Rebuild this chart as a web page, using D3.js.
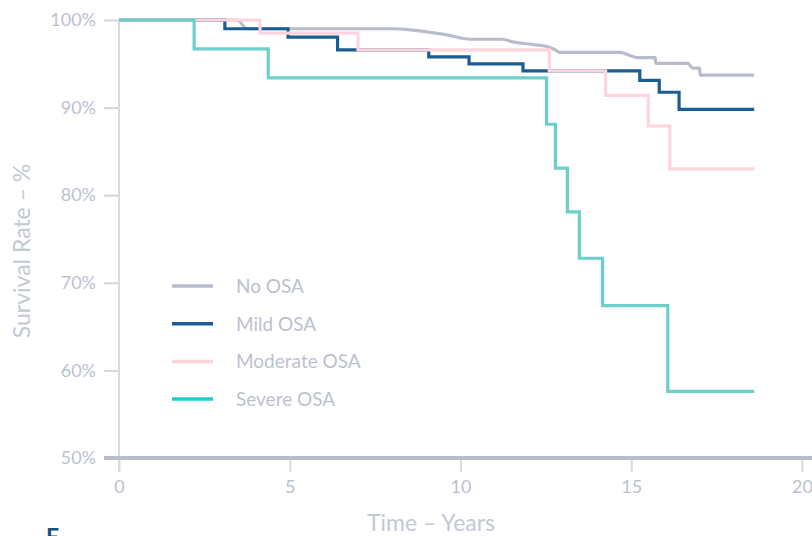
<!DOCTYPE html>
<html>
<head>
<meta charset="utf-8">
<script src="https://cdn.jsdelivr.net/npm/d3@7"></script>
<style>
  body { margin: 0; background: #fff; }
  svg { display: block; font-family: Lato, "Open Sans", sans-serif; }
</style>
</head>
<body>
<div id="chart"></div>
<script>
// Kaplan-Meier style survival curves
var seriesNames = ["No OSA", "Mild OSA", "Moderate OSA", "Severe OSA"];

// No OSA has many small events, so it reads as a smooth line
var noTimes   = [0, 3.46, 3.75, 8.0, 8.6, 9.1, 9.6, 10.0, 10.3, 11.2, 11.54, 12.24, 12.56, 12.77, 12.91, 14.67, 15.0, 15.17, 15.7, 15.72, 16.66, 16.8, 17.0, 17.02, 18.6];
var noValues  = [100, 100, 99.0, 99.0, 98.85, 98.6, 98.3, 97.95, 97.8, 97.8, 97.5, 97.15, 96.95, 96.6, 96.3, 96.3, 95.9, 95.7, 95.7, 95.05, 95.05, 94.5, 94.5, 93.7, 93.7];

var mildTimes  = [0, 3.1, 4.95, 6.4, 9.07, 10.25, 11.83, 15.25, 15.82, 16.4, 18.6];
var mildValues = [100, 99.0, 98.05, 96.6, 95.8, 95.0, 94.2, 93.1, 91.75, 89.8, 89.8];

var modTimes  = [0, 4.13, 7.0, 12.6, 14.25, 15.5, 16.13, 18.6];
var modValues = [100, 98.5, 96.6, 94.2, 91.4, 87.9, 83.0, 83.0];

var sevTimes  = [0, 2.2, 4.37, 12.52, 12.78, 13.13, 13.48, 14.16, 16.07, 18.6];
var sevValues = [100, 96.7, 93.4, 88.1, 83.1, 78.1, 72.8, 67.4, 57.6, 57.6];

var xTicks = [0, 5, 10, 15, 20];
var yTicks = [50, 60, 70, 80, 90, 100];

var lineColors   = ["#b9bdcb", "#1b5c92", "#ffd4dc", "#6dcfcb"];
var legendColors = ["#b9bdcb", "#1b5c92", "#ffd4dc", "#1fcfcf"];
var textColor = "#bcc1cf";
var fontStack = "Lato, 'Open Sans', sans-serif";

var width = 812, height = 536;

var svg = d3.select("#chart")
  .append("svg")
    .attr("width", width)
    .attr("height", height);

var x = d3.scaleLinear().domain([0, 20]).range([119, 802]);
var y = d3.scaleLinear().domain([50, 100]).range([458, 20]);

// y axis (thin line runs a bit below the x axis)
var yAxis = svg.append("g")
  .attr("transform", "translate(" + x(0) + ",0)")
  .call(d3.axisLeft(y).tickValues(yTicks).tickSize(15).tickSizeOuter(0).tickPadding(8)
    .tickFormat(function(d) { return d + "%"; }))
  .attr("font-family", fontStack)
  .attr("font-size", 18);
yAxis.select(".domain").remove();
yAxis.selectAll(".tick line").attr("stroke", "#d3d6de").attr("stroke-width", 2);
yAxis.selectAll(".tick text").attr("fill", textColor);
svg.append("line")
  .attr("x1", x(0)).attr("x2", x(0))
  .attr("y1", y(100) - 1).attr("y2", y(50) + 14)
  .attr("stroke", "#d8dae2")
  .attr("stroke-width", 2);

// x axis
var xAxis = svg.append("g")
  .attr("transform", "translate(0," + y(50) + ")")
  .call(d3.axisBottom(x).tickValues(xTicks).tickSize(14).tickSizeOuter(0).tickPadding(8))
  .attr("font-family", fontStack)
  .attr("font-size", 18);
xAxis.select(".domain").remove();
xAxis.selectAll(".tick line").attr("stroke", "#d8dae2").attr("stroke-width", 2);
xAxis.selectAll(".tick text").attr("fill", textColor);
svg.append("line")
  .attr("x1", 104).attr("x2", width)
  .attr("y1", y(50)).attr("y2", y(50))
  .attr("stroke", "#b9bdcb")
  .attr("stroke-width", 4);

// curves
var allSeries = [
  d3.zip(noTimes, noValues),
  d3.zip(mildTimes, mildValues),
  d3.zip(modTimes, modValues),
  d3.zip(sevTimes, sevValues)
];

function lineFor(i) {
  return d3.line()
    .x(function(d) { return x(d[0]); })
    .y(function(d) { return y(d[1]); })
    .curve(i == 0 ? d3.curveMonotoneX : d3.curveStepAfter);
}

svg.selectAll(".curve")
  .data(allSeries)
  .enter()
  .append("path")
    .attr("class", "curve")
    .attr("d", function(d, i) { return lineFor(i)(d); })
    .attr("fill", "none")
    .attr("stroke", function(d, i) { return lineColors[i]; })
    .attr("stroke-width", 3.2)
    .attr("stroke-linejoin", "miter");

// legend
var legend = svg.selectAll(".legend")
  .data(seriesNames)
  .enter()
  .append("g")
    .attr("class", "legend")
    .attr("transform", function(d, i) { return "translate(172," + (286 + i * 37.7) + ")"; });
legend.append("line")
  .attr("x1", 0).attr("x2", 41)
  .attr("stroke", function(d, i) { return legendColors[i]; })
  .attr("stroke-width", 3.5);
legend.append("text")
  .attr("x", 64)
  .attr("dy", "0.36em")
  .attr("fill", textColor)
  .style("font-size", "19px")
  .text(function(d) { return d; });

// axis titles
svg.append("text")
  .attr("transform", "translate(30,251) rotate(-90)")
  .attr("text-anchor", "middle")
  .attr("fill", "#c3c8d5")
  .style("font-size", "23px")
  .text("Survival Rate – %");

svg.append("text")
  .attr("x", 431)
  .attr("y", 531)
  .attr("text-anchor", "middle")
  .attr("fill", "#c3c8d5")
  .style("font-size", "23px")
  .text("Time – Years");

// cut-off glyph of the next panel label
svg.append("text")
  .attr("x", 46)
  .attr("y", 545)
  .attr("fill", "#1b4f80")
  .style("font-size", "23px")
  .style("font-weight", "bold")
  .text("F");
</script>
</body>
</html>
